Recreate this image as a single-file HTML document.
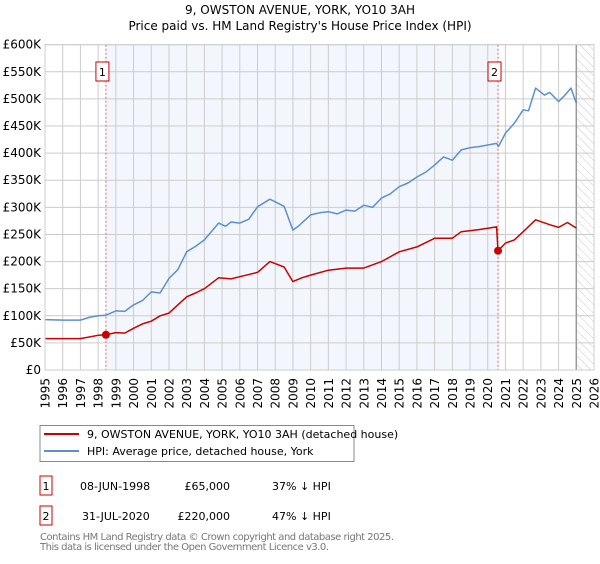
<!DOCTYPE html>
<html><head><meta charset="utf-8">
<style>
body{margin:0;background:#fff;font-family:"DejaVu Sans","Liberation Sans",sans-serif;}
svg text{font-family:"DejaVu Sans","Liberation Sans",sans-serif;}
</style></head>
<body>
<svg id="chart" width="600" height="560" xmlns="http://www.w3.org/2000/svg">
<defs>
<pattern id="hatch" width="6" height="6" patternUnits="userSpaceOnUse" patternTransform="rotate(-45)">
<line x1="0" y1="0" x2="0" y2="6" stroke="#ccc" stroke-width="1"/>
</pattern>
</defs>
<text x="300" y="14" text-anchor="middle" font-size="12">9, OWSTON AVENUE, YORK, YO10 3AH</text>
<text x="300" y="30" text-anchor="middle" font-size="12">Price paid vs. HM Land Registry's House Price Index (HPI)</text>
<g id="plot"></g>
<g>
<rect x="40" y="425.5" width="314" height="36" fill="#fff" stroke="#888"/>
<line x1="44" y1="434" x2="79" y2="434" stroke="#cc0000" stroke-width="2"/>
<text x="87" y="438" font-size="11">9, OWSTON AVENUE, YORK, YO10 3AH (detached house)</text>
<line x1="44" y1="451" x2="79" y2="451" stroke="#5b8fd0" stroke-width="2"/>
<text x="87" y="455" font-size="11">HPI: Average price, detached house, York</text>
</g>
<g font-size="11">
<rect x="40" y="476" width="12" height="19" fill="#fff" stroke="#cc0000"/>
<text x="46" y="490" text-anchor="middle">1</text>
<text x="80" y="490">08-JUN-1998</text>
<text x="230" y="490" text-anchor="end">£65,000</text>
<text x="272" y="490">37% ↓ HPI</text>
<rect x="40" y="506" width="12" height="19" fill="#fff" stroke="#cc0000"/>
<text x="46" y="520" text-anchor="middle">2</text>
<text x="82" y="520">31-JUL-2020</text>
<text x="230" y="520" text-anchor="end">£220,000</text>
<text x="272" y="520">47% ↓ HPI</text>
</g>
<text x="40" y="540" font-size="10" fill="#777" textLength="354">Contains HM Land Registry data © Crown copyright and database right 2025.</text>
<text x="40" y="550" font-size="10" fill="#777" textLength="289">This data is licensed under the Open Government Licence v3.0.</text>
</svg>
<script>
const hpiYears=[1995,1996,1997,1997.5,1998,1998.44,1999,1999.5,2000,2000.5,2001,2001.5,2002,2002.5,2003,2003.5,2004,2004.8,2005.2,2005.5,2006,2006.5,2007,2007.7,2008.5,2009,2009.3,2010,2010.5,2011,2011.5,2012,2012.5,2013,2013.5,2014,2014.5,2015,2015.5,2016,2016.5,2017,2017.5,2018,2018.5,2019,2019.5,2020,2020.5,2020.6,2021,2021.5,2022,2022.3,2022.7,2023.2,2023.5,2024,2024.3,2024.7,2025];
const hpiValues=[93,92,92,97,100,101,109,108,120,128,144,142,169,185,218,228,240,271,265,273,271,278,301,315,302,258,265,286,290,292,288,295,293,304,300,317,325,338,345,356,365,378,393,387,406,410,412,415,418,412,437,455,480,478,520,507,512,495,505,520,492];
const ppYears=[1995,1996,1997,1998,1998.44,1999,1999.5,2000,2000.5,2001,2001.5,2002,2002.5,2003,2003.5,2004,2004.8,2005.5,2006,2007,2007.7,2008.5,2009,2009.5,2010,2011,2012,2013,2014,2015,2016,2017,2018,2018.5,2019.5,2020.5,2020.58,2021,2021.5,2022,2022.7,2023.5,2024,2024.5,2025];
const ppValues=[58,58,58,64,65,69,68,77,85,90,100,105,120,135,142,150,170,168,172,180,200,190,163,170,175,184,188,188,200,218,227,243,243,255,259,264,220,234,240,255,277,268,263,272,262];
const saleYears=[1998.44,2020.58];
const saleValues=[65,220];
const saleLabels=["1","2"];
const yTicks=[0,50,100,150,200,250,300,350,400,450,500,550,600];
const yTickLabels=["£0","£50K","£100K","£150K","£200K","£250K","£300K","£350K","£400K","£450K","£500K","£550K","£600K"];
const xTicks=[1995,1996,1997,1998,1999,2000,2001,2002,2003,2004,2005,2006,2007,2008,2009,2010,2011,2012,2013,2014,2015,2016,2017,2018,2019,2020,2021,2022,2023,2024,2025,2026];

const X0=45,X1=594,Y0=370,Y1=44.7,YR0=1995,YR1=2026,VMAX=600;
const xs=y=>X0+(y-YR0)/(YR1-YR0)*(X1-X0);
const ys=v=>Y0-v/VMAX*(Y0-Y1);
const NS="http://www.w3.org/2000/svg";
const g=document.getElementById('plot');
function mk(t,a){const e=document.createElementNS(NS,t);for(const k in a)e.setAttribute(k,a[k]);g.appendChild(e);return e;}

let e=mk('rect',{x:xs(saleYears[0]),y:Y1,width:xs(saleYears[1])-xs(saleYears[0]),height:Y0-Y1,fill:'#eef3fc',opacity:0.7});


e=mk('rect',{x:xs(2025),y:Y1,width:X1-xs(2025),height:Y0-Y1,fill:'url(#hatch)'});



yTicks.forEach((v,i)=>{
 let l=mk('line',{x1:X0,x2:X1,y1:ys(v),y2:ys(v),stroke:'#ccc','stroke-width':1});
 
 
 let t=mk('text',{x:X0-4,y:ys(v)+4,'text-anchor':'end','font-size':12});
 t.textContent=yTickLabels[i];
 
 
});
xTicks.forEach(y=>{
 let l=mk('line',{x1:xs(y),x2:xs(y),y1:Y1,y2:Y0,stroke:'#ccc','stroke-width':1});
 
 
 let t=mk('text',{x:0,y:0,'text-anchor':'end','font-size':12,transform:`translate(${xs(y)+4.5},${Y0+8}) rotate(-90)`});
 t.textContent=y;
 
 
});
e=mk('line',{x1:xs(2025),x2:xs(2025),y1:Y1,y2:Y0,stroke:'#999','stroke-width':1.5});



saleYears.forEach((y,i)=>{
 let l=mk('line',{x1:xs(y),x2:xs(y),y1:Y1,y2:Y0,stroke:'#e06666','stroke-width':1,'stroke-dasharray':'2,2'});
 
 
});

function path(xa,va,color,name){
 const d=xa.map((y,i)=>(i?'L':'M')+xs(y).toFixed(1)+','+ys(va[i]).toFixed(1)).join('');
 const p=mk('path',{d:d,fill:'none',stroke:color,'stroke-width':1.5,'stroke-linejoin':'round'});
 
 
}
path(hpiYears,hpiValues,'#5b8fd0','hpi-line');
path(ppYears,ppValues,'#cc0000','price-paid-line');

saleYears.forEach((y,i)=>{
 let c=mk('circle',{cx:xs(y),cy:ys(saleValues[i]),r:4,fill:'#cc0000'});
 
 
 let r=mk('rect',{x:xs(y)-10,y:62,width:13,height:19,fill:'#fff',stroke:'#cc0000'});
 
 
 let t=mk('text',{x:xs(y)-3.5,y:76,'text-anchor':'middle','font-size':11});
 t.textContent=saleLabels[i];
 
 
});
e=mk('rect',{x:X0,y:Y1,width:X1-X0,height:Y0-Y1,fill:'none',stroke:'#ccc'});


</script>
</body></html>
